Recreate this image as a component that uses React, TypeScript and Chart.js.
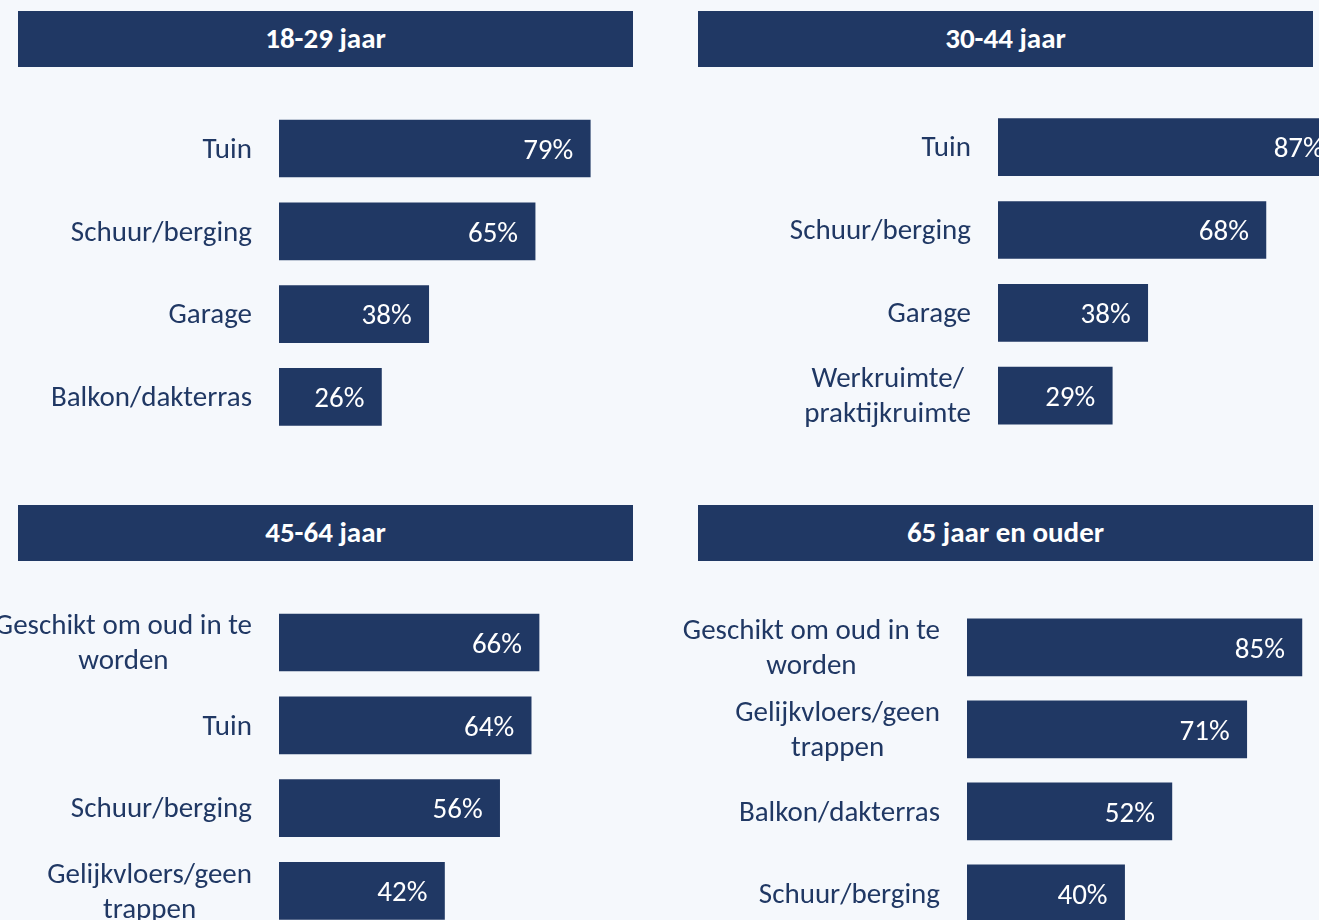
import React, { useEffect, useRef } from "react";
import { Chart, registerables } from "chart.js";

Chart.register(...registerables);

// ---- Data ----
const panelTitles = ["18-29 jaar", "30-44 jaar", "45-64 jaar", "65 jaar en ouder"];

const categories1: (string | string[])[] = ["Tuin", "Schuur/berging", "Garage", "Balkon/dakterras"];
const values1 = [79, 65, 38, 26];

const categories2: (string | string[])[] = ["Tuin", "Schuur/berging", "Garage", ["Werkruimte/", "praktijkruimte"]];
const values2 = [87, 68, 38, 29];

const categories3: (string | string[])[] = [
  ["Geschikt om oud in te", "worden"],
  "Tuin",
  "Schuur/berging",
  ["Gelijkvloers/geen", "trappen"],
];
const values3 = [66, 64, 56, 42];

const categories4: (string | string[])[] = [
  ["Geschikt om oud in te", "worden"],
  ["Gelijkvloers/geen", "trappen"],
  "Balkon/dakterras",
  "Schuur/berging",
];
const values4 = [85, 71, 52, 40];

const axisMax = 100;

// ---- Style / layout ----
const NAVY = "#203864";
const BG = "#f5f8fc";
const FONT = "Carlito, Calibri, Lato, sans-serif";
const FONT_SIZE = 29;
const CANVAS_W = 1400;
const CANVAS_H = 1000;
const PX_PER_UNIT = 3.94;

type Layout = { left: number; top: number; spacing: number; header: { x: number; y: number } };

const layouts: Layout[] = [
  { left: 279, top: 107.1, spacing: 82.8, header: { x: 18, y: 11 } },
  { left: 998, top: 105.8, spacing: 82.8, header: { x: 698, y: 11 } },
  { left: 279, top: 601.1, spacing: 82.8, header: { x: 18, y: 505 } },
  { left: 967, top: 606.3, spacing: 82.0, header: { x: 698, y: 505 } },
];

const labelPlugin = {
  id: "customLabels",
  afterDatasetsDraw(chart: any) {
    const { ctx, chartArea } = chart;
    const yScale = chart.scales.y;
    const xScale = chart.scales.x;
    const labels = chart.data.labels as (string | string[])[];
    const data = chart.data.datasets[0].data as number[];
    ctx.save();
    // category labels
    ctx.font = `${FONT_SIZE}px ${FONT}`;
    ctx.fillStyle = NAVY;
    ctx.textBaseline = "middle";
    ctx.textAlign = "center";
    const lineH = 35;
    labels.forEach((lab, i) => {
      const lines = Array.isArray(lab) ? lab : [lab];
      const widest = Math.max(...lines.map((l) => ctx.measureText(l).width));
      const cx = chartArea.left - 27 - widest / 2;
      const cy = yScale.getPixelForValue(i) + 2;
      const y0 = cy - ((lines.length - 1) * lineH) / 2;
      lines.forEach((l, j) => ctx.fillText(l, cx, y0 + j * lineH));
    });
    // value labels
    ctx.fillStyle = "#ffffff";
    ctx.textAlign = "right";
    data.forEach((v, i) => {
      const x = xScale.getPixelForValue(v) - 17;
      const y = yScale.getPixelForValue(i) + 3;
      ctx.fillText(`${v}%`, x, y);
    });
    ctx.restore();
  },
};

function Panel({ labels, values, layout }: { labels: (string | string[])[]; values: number[]; layout: Layout }) {
  const ref = useRef<HTMLCanvasElement | null>(null);
  useEffect(() => {
    if (!ref.current) return;
    const areaH = layout.spacing * labels.length;
    const right = CANVAS_W - (layout.left + PX_PER_UNIT * axisMax);
    const chart = new Chart(ref.current, {
      type: "bar",
      data: {
        labels: labels as any,
        datasets: [
          {
            data: values,
            backgroundColor: NAVY,
            borderWidth: 0,
            barThickness: 57,
          },
        ],
      },
      options: {
        indexAxis: "y",
        animation: false,
        responsive: false,
        layout: {
          padding: {
            left: layout.left,
            right,
            top: layout.top,
            bottom: CANVAS_H - layout.top - areaH,
          },
        },
        plugins: { legend: { display: false }, tooltip: { enabled: false } },
        scales: {
          x: { min: 0, max: axisMax, display: false },
          y: { display: false },
        },
      },
      plugins: [labelPlugin],
    });
    return () => chart.destroy();
  }, []);
  return (
    <canvas
      ref={ref}
      width={CANVAS_W}
      height={CANVAS_H}
      style={{ position: "absolute", left: 0, top: 0, width: CANVAS_W, height: CANVAS_H }}
    />
  );
}

export default function App() {
  const sets = [
    { labels: categories1, values: values1 },
    { labels: categories2, values: values2 },
    { labels: categories3, values: values3 },
    { labels: categories4, values: values4 },
  ];
  return (
    <div
      style={{
        position: "fixed",
        left: 0,
        top: 0,
        width: 1319,
        height: 920,
        overflow: "hidden",
        background: BG,
      }}
    >
      {sets.map((s, i) => (
        <Panel key={i} labels={s.labels} values={s.values} layout={layouts[i]} />
      ))}
      {panelTitles.map((t, i) => (
        <div
          key={t}
          style={{
            position: "absolute",
            left: layouts[i].header.x,
            top: layouts[i].header.y,
            width: 615,
            height: 56,
            background: NAVY,
            color: "#ffffff",
            fontFamily: FONT,
            fontWeight: 700,
            fontSize: FONT_SIZE,
            display: "flex",
            alignItems: "center",
            justifyContent: "center",
            paddingBottom: 2,
            boxSizing: "border-box",
          }}
        >
          {t}
        </div>
      ))}
    </div>
  );
}
